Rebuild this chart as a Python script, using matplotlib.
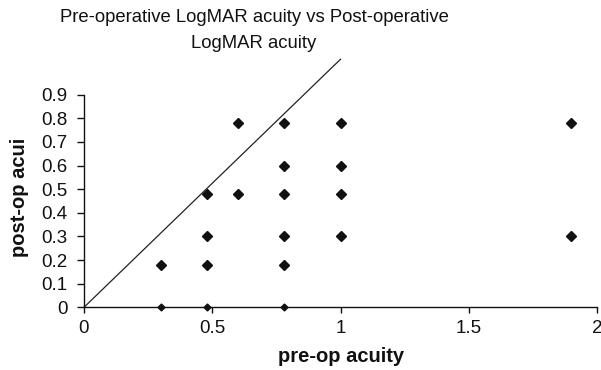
import matplotlib
matplotlib.use("Agg")
import matplotlib.pyplot as plt
import numpy as np

plt.rcParams['font.family'] = ['Liberation Sans', 'DejaVu Sans']

pre_op = [0.3, 0.3,
          0.48, 0.48, 0.48, 0.48,
          0.6, 0.6,
          0.78, 0.78, 0.78, 0.78, 0.78, 0.78,
          1.0, 1.0, 1.0, 1.0,
          1.9, 1.9]
post_op = [0.18, 0.0,
           0.48, 0.3, 0.18, 0.0,
           0.78, 0.48,
           0.78, 0.6, 0.48, 0.3, 0.18, 0.0,
           0.78, 0.6, 0.48, 0.3,
           0.78, 0.3]
ref_x = [0.0, 1.0]
ref_y = [0.0, 1.05]
x_ticks = [0, 0.5, 1, 1.5, 2]
x_tick_labels = ['0', '0.5', '1', '1.5', '2']
y_ticks = [0, 0.1, 0.2, 0.3, 0.4, 0.5, 0.6, 0.7, 0.8, 0.9]
y_tick_labels = ['0', '0.1', '0.2', '0.3', '0.4', '0.5', '0.6', '0.7', '0.8', '0.9']

fig = plt.figure(figsize=(6.01, 3.70), dpi=100)
ax = fig.add_axes([84/601, 1-307.3/370, (597-84)/601, (307.3-94.7)/370])

x = np.array(pre_op)
y = np.array(post_op)
on_axis = y == 0
ax.plot(x[~on_axis], y[~on_axis], linestyle='none', marker='D', ms=5.5,
        color='#111111', clip_on=False, zorder=3)
ax.plot(x[on_axis], y[on_axis], linestyle='none', marker='D', ms=3.5,
        color='#111111', clip_on=False, zorder=3)
ax.plot(ref_x, ref_y, color='#222222', lw=0.9, clip_on=False, zorder=2)

ax.set_xlim(0, 2)
ax.set_ylim(0, 0.9)
ax.set_xticks(x_ticks)
ax.set_xticklabels(x_tick_labels)
ax.set_yticks(y_ticks)
ax.set_yticklabels(y_tick_labels)
ax.tick_params(direction='out', length=4, width=1, labelsize=13.5, colors='#111111')
ax.tick_params(axis='y', length=5, pad=7)
ax.tick_params(axis='x', pad=5)
for s in ['top', 'right']:
    ax.spines[s].set_visible(False)
for s in ['left', 'bottom']:
    ax.spines[s].set_linewidth(1)
    ax.spines[s].set_color('#111111')

fig.text(254/601, 1-17/370, 'Pre-operative LogMAR acuity vs Post-operative',
         ha='center', va='center', fontsize=13.3, color='#111111')
fig.text(254/601, 1-43/370, 'LogMAR acuity',
         ha='center', va='center', fontsize=13.3, color='#111111')
fig.text(20/601, 1-197/370, 'post-op acui', rotation=90, ha='center', va='center',
         fontsize=14.5, fontweight='bold', color='#111111')
fig.text(341/601, 1-357/370, 'pre-op acuity', ha='center', va='center',
         fontsize=14.5, fontweight='bold', color='#111111')

fig.savefig('out.png', dpi=100)
